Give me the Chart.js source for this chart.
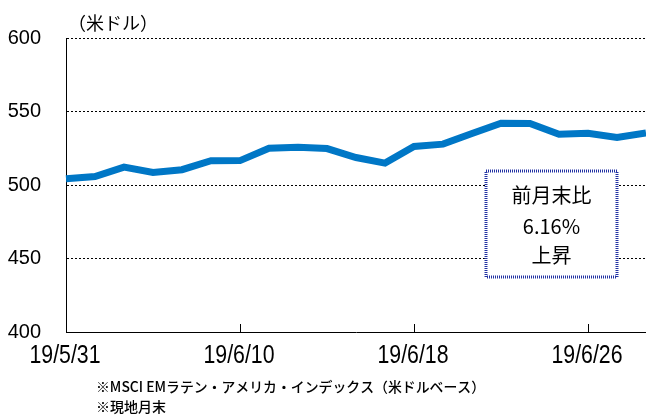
<!DOCTYPE html>
<html>
<head>
<meta charset="utf-8">
<script src="https://cdn.jsdelivr.net/npm/chart.js@4"></script>
<style>
  html, body { margin: 0; padding: 0; background: #fff; }
  #wrap { width: 646px; height: 419px; }
</style>
</head>
<body>
<div id="wrap"><canvas id="chart" width="646" height="419"></canvas></div>
<script>
// MSCI EM Latin America index, daily closes for June 2019 (USD)
const dates = [
  '19/5/31', '19/6/3', '19/6/4', '19/6/5', '19/6/6', '19/6/7',
  '19/6/10', '19/6/11', '19/6/12', '19/6/13', '19/6/14', '19/6/17',
  '19/6/18', '19/6/19', '19/6/20', '19/6/21', '19/6/24', '19/6/25',
  '19/6/26', '19/6/27', '19/6/28'
];
const values = [
  504.3, 505.8, 512.2, 508.5, 510.4, 516.5,
  516.6, 525.0, 525.7, 524.8, 518.7, 514.9,
  526.2, 527.8, 535.0, 542.0, 541.8, 534.5,
  535.2, 532.3, 535.4
];
const yTicks = [400, 450, 500, 550, 600];
const labelEvery = 6;

const unitLabel = '（米ドル）';
const boxLines = ['前月末比', '6.16%', '上昇'];
const notes = [
  '※MSCI EMラテン・アメリカ・インデックス（米ドルベース）',
  '※現地月末'
];

const jpFont = "'Noto Sans CJK JP', 'Noto Sans', sans-serif";

// extra drawing: date labels, inner tick marks, unit label, change box, footnotes
const extras = {
  id: 'extras',
  afterDraw(chart) {
    const ctx = chart.ctx;
    const area = chart.chartArea;
    const x = chart.scales.x;
    ctx.save();

    // tick marks pointing up into the plot
    ctx.strokeStyle = '#000';
    ctx.lineWidth = 1;
    for (let i = labelEvery; i < dates.length; i += labelEvery) {
      const px = Math.round(x.getPixelForValue(i)) + 0.5;
      ctx.beginPath();
      ctx.moveTo(px, area.bottom);
      ctx.lineTo(px, area.bottom - 8);
      ctx.stroke();
    }

    // date labels, narrow
    ctx.fillStyle = '#000';
    ctx.font = "25px 'Liberation Sans', Arial, sans-serif";
    ctx.textAlign = 'center';
    ctx.textBaseline = 'middle';
    for (let i = 0; i < dates.length; i += labelEvery) {
      ctx.fillText(dates[i], x.getPixelForValue(i) - 1, area.bottom + 24, 71);
    }

    // unit
    ctx.font = '18px ' + jpFont;
    ctx.textAlign = 'left';
    ctx.fillText(unitLabel, 68, 23);

    // change box
    const bx = area.left + 420, by = area.top + 133, bw = 131, bh = 106;
    ctx.fillStyle = '#fff';
    ctx.fillRect(bx, by, bw, bh);
    ctx.strokeStyle = '#2333a3';
    ctx.lineWidth = 3;
    ctx.setLineDash([1, 1]);
    ctx.strokeRect(bx, by, bw, bh);
    ctx.setLineDash([]);
    ctx.fillStyle = '#000';
    ctx.font = '20px ' + jpFont;
    ctx.textAlign = 'center';
    const cx = bx + bw / 2;
    ctx.fillText(boxLines[0], cx, by + 24);
    ctx.fillText(boxLines[1], cx, by + 55);
    ctx.fillText(boxLines[2], cx, by + 84);

    // footnotes
    ctx.font = '500 14px ' + jpFont;
    ctx.textAlign = 'left';
    ctx.fillText(notes[0], 96, 387, 389);
    ctx.fillText(notes[1], 96, 407);

    ctx.restore();
  }
};

new Chart(document.getElementById('chart'), {
  type: 'line',
  data: {
    labels: dates,
    datasets: [{
      data: values,
      borderColor: '#0077c6',
      borderWidth: 7,
      pointRadius: 0,
      tension: 0,
      fill: false
    }]
  },
  options: {
    responsive: false,
    animation: false,
    layout: { autoPadding: false, padding: { top: 38, right: 0, left: 0, bottom: 0 } },
    plugins: {
      legend: { display: false },
      tooltip: { enabled: false }
    },
    scales: {
      x: {
        offset: false,
        grid: { display: false, drawTicks: false },
        border: { display: true, color: '#000', width: 1 },
        ticks: { display: false },
        afterFit: (s) => { s.height = 87; }
      },
      y: {
        min: yTicks[0],
        max: yTicks[yTicks.length - 1],
        afterBuildTicks: (s) => { s.ticks = yTicks.map(v => ({ value: v })); },
        grid: {
          drawTicks: false,
          color: (c) => (c.tick && c.tick.value === yTicks[0] ? 'rgba(0,0,0,0)' : '#000'),
          lineWidth: 1
        },
        border: { display: true, color: '#000', width: 1, dash: [2, 2] },
        ticks: {
          padding: 25,
          color: '#000',
          font: { family: "'Liberation Sans', Arial, sans-serif", size: 20 }
        },
        afterFit: (s) => { s.width = 66; }
      }
    }
  },
  plugins: [extras]
});
</script>
</body>
</html>
